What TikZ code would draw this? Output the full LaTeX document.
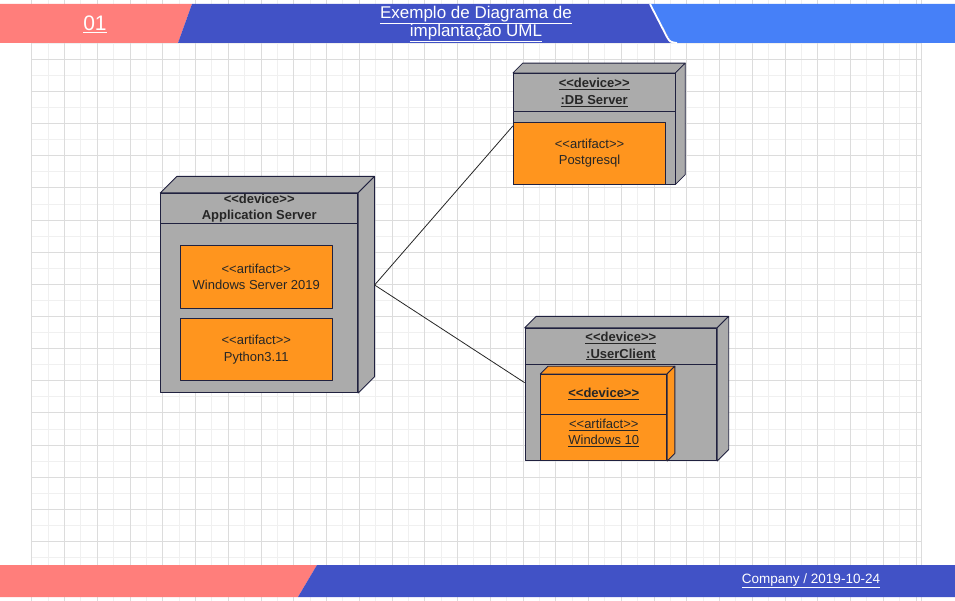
\documentclass[tikz,border=0pt]{standalone}
\usepackage{fontspec}
\setmainfont{Liberation Sans}
\usepackage{xcolor}
\usepackage{tikz}
\usetikzlibrary{positioning,calc}
\definecolor{bandred}{HTML}{FF7E7B}
\definecolor{bandblue}{HTML}{4152C6}
\definecolor{bandsky}{HTML}{4680F8}
\definecolor{nodegray}{HTML}{ABABAB}
\definecolor{artorange}{HTML}{FF951E}
\definecolor{edgeline}{HTML}{20213F}
\definecolor{gridminor}{HTML}{F0F0F0}
\definecolor{gridmajor}{HTML}{DCDCDC}
\newcommand{\stereo}[1]{<{}<#1>{}>}

\begin{document}
\begin{tikzpicture}[x=1pt,y=-1pt,
  face/.style={draw=edgeline,line width=0.8pt,line join=round},
  devbox/.style={face,fill=nodegray,inner sep=0pt},
  headbox/.style={devbox,align=center,font=\bfseries\fontsize{13}{16.5}\selectfont,text=black!85},
  artbox/.style={face,fill=artorange,inner sep=0pt,align=center,minimum width=152.5pt,minimum height=62.3pt,font=\fontsize{13}{16.5}\selectfont,text=black!85},
  band/.style={font=\fontsize{13.5}{18}\selectfont,text=white},
  link/.style={draw=black!85,line width=0.8pt}]
% page and grid
\useasboundingbox (0,0) rectangle (955,601);
\fill[white] (0,0) rectangle (955,601);
\foreach \i in {0,...,54} \draw[gridminor,line width=0.8pt] ({31.7+16.375*\i},0) -- ++(0,601);
\foreach \j in {-1,...,33} \draw[gridminor,line width=0.8pt] (31.7,{59.3+16.07*\j}) -- (921,{59.3+16.07*\j});
\foreach \i in {0,...,27} \draw[gridmajor,line width=0.8pt] ({31.7+32.75*\i},0) -- ++(0,601);
\foreach \j in {0,...,16} \draw[gridmajor,line width=0.8pt] (31.7,{59.3+32.14*\j}) -- (921,{59.3+32.14*\j});
\draw[gridmajor,line width=0.8pt] (921,0) -- (921,601);

% header
\fill[bandred] (0,4) -- (192,4) -- (178,43) -- (0,43) -- cycle;
\fill[bandblue] (192,4) -- (650,4) -- (672,43) -- (178,43) -- cycle;
\fill[bandsky] (650,4) -- (955,4) -- (955,43) -- (672,43) -- cycle;
\draw[white,line width=1.8pt] (650,4) -- (667,37) .. controls (670,42) .. (677,43);
\node[band,font=\fontsize{21}{24}\selectfont] (pagenum) at (95,24) {\underline{01}};
\node[band,font=\fontsize{17}{18.5}\selectfont,align=center] (title) at (476,24)
  {\underline{Exemplo de Diagrama de}\\\underline{implantação UML}};

% footer
\fill[bandred] (0,565) -- (317,565) -- (298,597) -- (0,597) -- cycle;
\fill[bandblue] (317,565) -- (955,565) -- (955,597) -- (298,597) -- cycle;
\node[band] (stamp) at (811,581) {\underline{Company / 2019-10-24}};

% Application Server
\node[devbox,minimum width=197pt,minimum height=199.4pt] (app) at (259.2,293) {};
\node[headbox,minimum width=197pt,minimum height=30pt,anchor=north] (apphead) at (app.north)
  {\stereo{device}\\Application Server};
\node[artbox,below=21.7pt of apphead,xshift=-2.9pt] (winsrv) {\stereo{artifact}\\Windows Server 2019};
\node[artbox,below=9.4pt of winsrv] (python) {\stereo{artifact}\\Python3.11};

% DB Server
\node[devbox,minimum width=161.7pt,minimum height=110.7pt] (db) at (594.2,128.7) {};
\node[headbox,minimum width=161.7pt,minimum height=38.4pt,anchor=north] (dbhead) at (db.north)
  {\underline{\stereo{device}}\\\underline{:DB Server}};
\node[artbox,minimum width=152.4pt,minimum height=61.7pt,anchor=south west] (pgsql) at (db.south west)
  {\stereo{artifact}\\Postgresql};

% UserClient
\node[devbox,minimum width=191.7pt,minimum height=132.4pt] (user) at (620.9,394.5) {};
\node[headbox,minimum width=191.7pt,minimum height=35.7pt,anchor=north] (userhead) at (user.north)
  {\underline{\stereo{device}}\\\underline{:UserClient}};
\node[devbox,fill=artorange,minimum width=126pt,minimum height=86.4pt,anchor=south west,xshift=15.7pt] (pc) at (user.south west) {};
\node[headbox,fill=artorange,minimum width=126pt,minimum height=39.7pt,anchor=north] (pchead) at (pc.north)
  {\underline{\stereo{device}}};
\node[align=center,font=\fontsize{13}{16.5}\selectfont,text=black!85] (win10) at ($(pchead.south)!0.4!(pc.south)$)
  {\underline{\stereo{artifact}}\\\underline{Windows 10}};

% top and side faces
\foreach \n/\d/\c in {app/16.5/nodegray,db/9.8/nodegray,user/11.5/nodegray,pc/7.7/artorange}{
  \draw[face,fill=\c] (\n.north west) -- ++(\d,-\d) -- ($(\n.north east)+(\d,-\d)$) -- (\n.north east) -- cycle;
  \draw[face,fill=\c] (\n.north east) -- ++(\d,-\d) -- ($(\n.south east)+(\d,-\d)$) -- (\n.south east) -- cycle;
}

% links
\coordinate (appport) at ($(app.east)+(16.5,-8)$);
\draw[link] (appport) -- (db.178);
\draw[link] (appport) -- (user.173);
\end{tikzpicture}
\end{document}
